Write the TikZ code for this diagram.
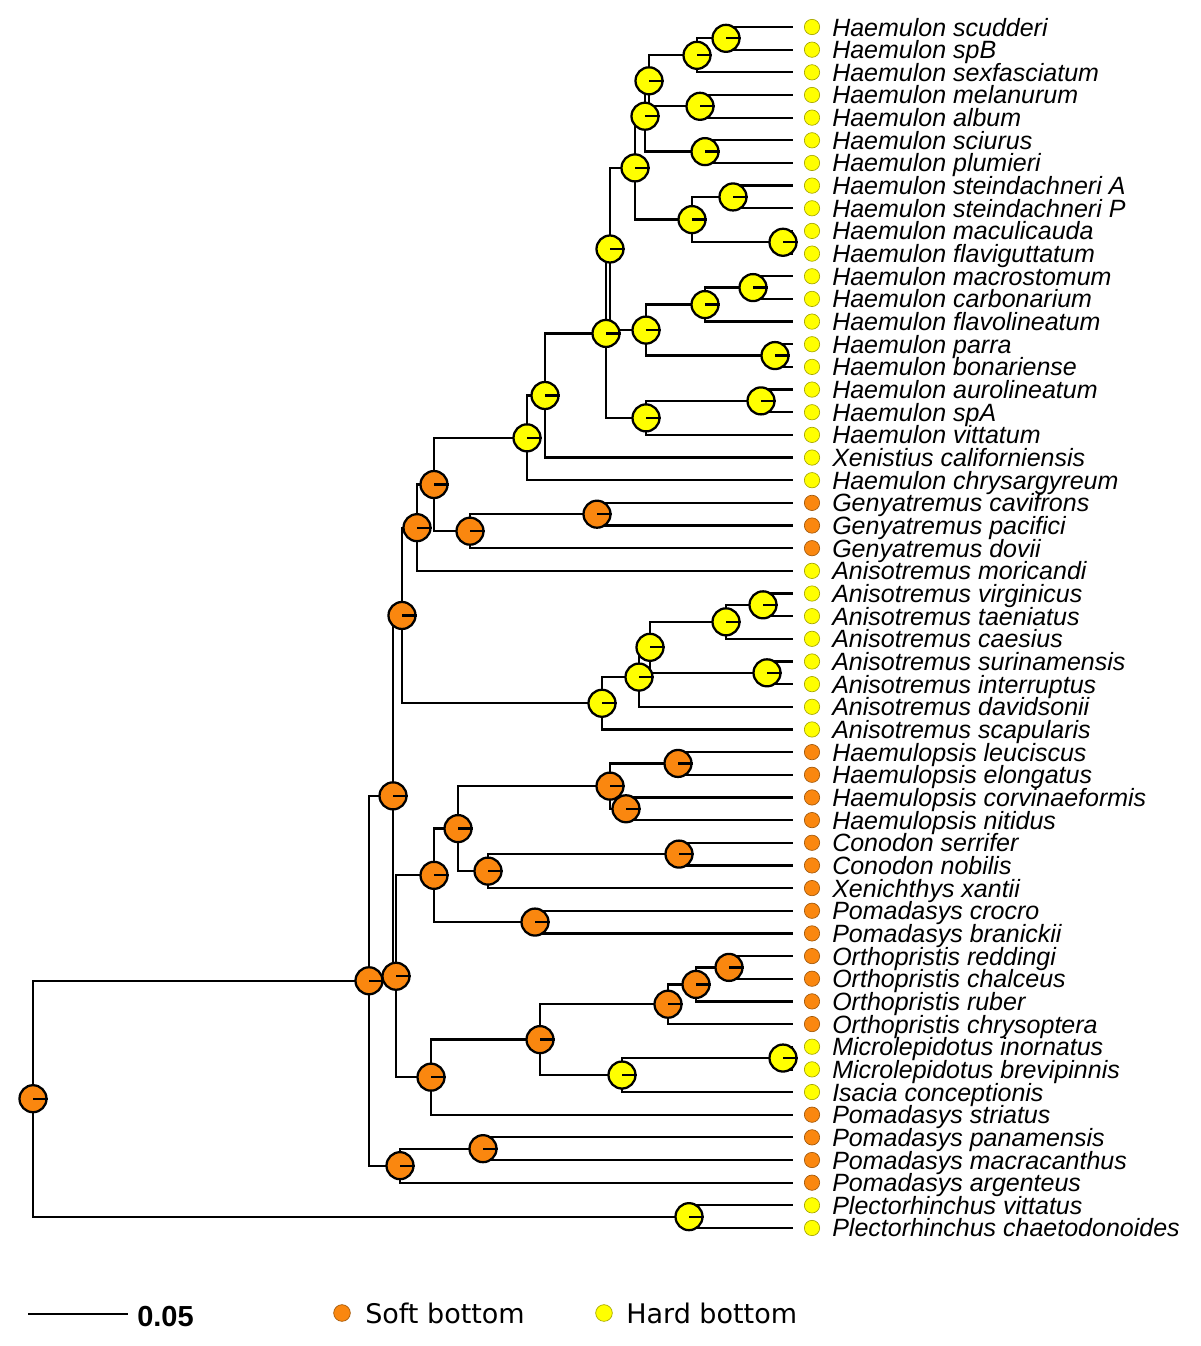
\documentclass[tikz,border=0pt]{standalone}
\usepackage{fontspec}
\usetikzlibrary{calc}
\newfontfamily\labfont{Liberation Sans}
\newfontfamily\legfont{DejaVu Sans}
\definecolor{softbot}{RGB}{250,135,15}
\definecolor{hardbot}{RGB}{255,255,0}

\begin{document}
\begin{tikzpicture}[x=.75pt,y=-.75pt,
    branch/.style={line width=1.7pt},
    pie/.style={circle,draw=black,line width=1.7pt,minimum size=20.25pt,inner sep=0pt},
    tick/.style={line width=1.7pt},
    tipdot/.style={circle,draw=#1!65!black,fill=#1,line width=.5pt,minimum size=11.5pt,inner sep=0pt},
    tiplab/.style={anchor=base west,inner sep=0pt,font=\labfont\itshape\fontsize{18.75}{20}\selectfont},
    legtxt/.style={anchor=base west,inner sep=0pt,font=\legfont\fontsize{20.25}{22}\selectfont}]
        \useasboundingbox (0,0) rectangle (1200,1346);
        \foreach \lab/\c [count=\i] in {Haemulon scudderi/hardbot,Haemulon spB/hardbot,Haemulon sexfasciatum/hardbot,
            Haemulon melanurum/hardbot,Haemulon album/hardbot,Haemulon sciurus/hardbot,Haemulon plumieri/hardbot,
            Haemulon steindachneri A/hardbot,Haemulon steindachneri P/hardbot,Haemulon maculicauda/hardbot,
            Haemulon flaviguttatum/hardbot,Haemulon macrostomum/hardbot,Haemulon carbonarium/hardbot,
            Haemulon flavolineatum/hardbot,Haemulon parra/hardbot,Haemulon bonariense/hardbot,
            Haemulon aurolineatum/hardbot,Haemulon spA/hardbot,Haemulon vittatum/hardbot,
            Xenistius californiensis/hardbot,Haemulon chrysargyreum/hardbot,Genyatremus cavifrons/softbot,
            Genyatremus pacifici/softbot,Genyatremus dovii/softbot,Anisotremus moricandi/hardbot,
            Anisotremus virginicus/hardbot,Anisotremus taeniatus/hardbot,Anisotremus caesius/hardbot,
            Anisotremus surinamensis/hardbot,Anisotremus interruptus/hardbot,Anisotremus davidsonii/hardbot,
            Anisotremus scapularis/hardbot,Haemulopsis leuciscus/softbot,Haemulopsis elongatus/softbot,
            Haemulopsis corvinaeformis/softbot,Haemulopsis nitidus/softbot,Conodon serrifer/softbot,
            Conodon nobilis/softbot,Xenichthys xantii/softbot,Pomadasys crocro/softbot,Pomadasys branickii/softbot,
            Orthopristis reddingi/softbot,Orthopristis chalceus/softbot,Orthopristis ruber/softbot,
            Orthopristis chrysoptera/softbot,Microlepidotus inornatus/hardbot,Microlepidotus brevipinnis/hardbot,
            Isacia conceptionis/hardbot,Pomadasys striatus/softbot,Pomadasys panamensis/softbot,
            Pomadasys macracanthus/softbot,Pomadasys argenteus/softbot,Plectorhinchus vittatus/hardbot,
            Plectorhinchus chaetodonoides/hardbot} {
          \coordinate (t\i) at (793,{27+(\i-1)*22.66});
          \node[tipdot=\c] (d\i) at (812,{27+(\i-1)*22.66}) {};
          \node[tiplab] (l\i) at (832,{36+(\i-1)*22.66}) {\lab};
        }
        \foreach \n/\x/\a/\b in {A1/726/t1/t2,A2/697/A1/t3,A3/700/t4/t5,A4/649/A2/A3,A5/705/t6/t7,
            A6/645/A4/A5,A7/733/t8/t9,A8/783/t10/t11,A9/692/A7/A8,A10/635/A6/A9,A11/753/t12/t13,
            A12/705/A11/t14,A13/775/t15/t16,A14/646/A12/A13,A15/761/t17/t18,A16/646/A15/t19,
            A18/610/A10/A14,A17/606/A18/A16,A19/545/A17/t20,A20/527/A19/t21,G1/597/t22/t23,
            G2/470/G1/t24,G3/434/A20/G2,G4/417/G3/t25,B1/763/t26/t27,B2/726/B1/t28,B3/767/t29/t30,
            B4/650/B2/B3,B5/639/B4/t31,B6/602/B5/t32,G5/402/G4/B6,C1/678/t33/t34,C2/626/t35/t36,
            C3/610/C1/C2,C4/679/t37/t38,C5/488/C4/t39,C6/458/C3/C5,C7/535/t40/t41,C8/434/C6/C7,
            O1/729/t42/t43,O2/696/O1/t44,O3/668/O2/t45,M1/783/t46/t47,M2/622/M1/t48,E1/540/O3/M2,
            E/431/E1/t49,D/396/C8/E,C9/393/G5/D,H1/483/t50/t51,H/400/H1/t52,F/369/C9/H,
            P/689/t53/t54,R/33/F/P} {
          \path ($(\a)!.5!(\b)$) coordinate (mid);
          \coordinate (\n) at (\x,0 |- mid);
          \draw[branch] (\n) |- (\a) (\n) |- (\b);
        }
        \foreach \n/\c in {R/softbot,F/softbot,C9/softbot,G5/softbot,G4/softbot,G3/softbot,A20/hardbot,
            A19/hardbot,A17/hardbot,A18/hardbot,A10/hardbot,A6/hardbot,A4/hardbot,A2/hardbot,A1/hardbot,
            A3/hardbot,A5/hardbot,A9/hardbot,A7/hardbot,A8/hardbot,A14/hardbot,A12/hardbot,A11/hardbot,
            A13/hardbot,A16/hardbot,A15/hardbot,G2/softbot,G1/softbot,B6/hardbot,B5/hardbot,B4/hardbot,
            B2/hardbot,B1/hardbot,B3/hardbot,D/softbot,C8/softbot,C6/softbot,C3/softbot,C1/softbot,
            C2/softbot,C5/softbot,C4/softbot,C7/softbot,E/softbot,E1/softbot,O3/softbot,O2/softbot,
            O1/softbot,M2/hardbot,M1/hardbot,H/softbot,H1/softbot,P/hardbot} {
          \node[pie,fill=\c] (p\n) at (\n) {};
          \draw[tick] (p\n.center) -- (p\n.east);
        }
        \coordinate (sc0) at (28,1314);
        \coordinate (sc1) at (128,1314);
        \draw[line width=1.5pt] (sc0) -- (sc1);
        \node[anchor=base west,inner sep=0pt,font=\labfont\bfseries\fontsize{21.75}{23}\selectfont] (scl) at (137,1326) {0.05};
        \node[tipdot=softbot,minimum size=12.5pt] (ksoft) at (342,1313) {};
        \node[legtxt] (lsoft) at (365,1323) {Soft bottom};
        \node[tipdot=hardbot,minimum size=12.5pt] (khard) at (604,1313) {};
        \node[legtxt] (lhard) at (626,1323) {Hard bottom};
      \end{tikzpicture}
\end{document}
